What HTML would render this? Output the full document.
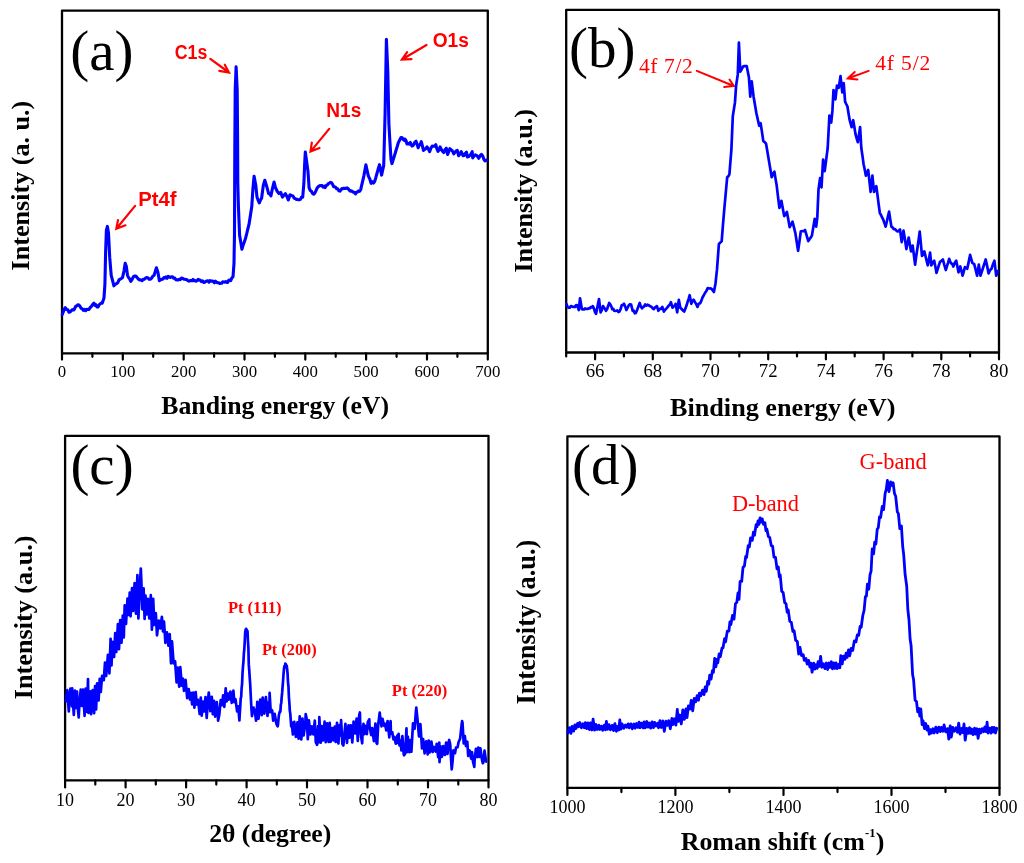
<!DOCTYPE html>
<html><head><meta charset="utf-8"><title>XPS / XRD / Raman figure</title>
<style>
html,body{margin:0;padding:0;background:#fff;}
body{width:1024px;height:863px;overflow:hidden;}
svg{display:block;will-change:transform;}
text{font-kerning:normal;}
</style></head><body>
<svg width="1024" height="863" viewBox="0 0 1024 863">
<rect width="1024" height="863" fill="#fff"/>
<rect x="62.0" y="10.6" width="425.8" height="342.7" fill="none" stroke="#000" stroke-width="2.3" stroke-linejoin="round"/>
<path d="M62.0 353.3V359.6M122.8 353.3V359.6M183.7 353.3V359.6M244.5 353.3V359.6M305.3 353.3V359.6M366.1 353.3V359.6M427.0 353.3V359.6M487.8 353.3V359.6M92.4 353.3V356.8M153.2 353.3V356.8M214.1 353.3V356.8M274.9 353.3V356.8M335.7 353.3V356.8M396.6 353.3V356.8M457.4 353.3V356.8" stroke="#000" stroke-width="2.2" stroke-linecap="round" fill="none"/>
<text x="62.0" y="376.6" font-family="Liberation Serif" font-size="16.8" font-weight="normal" fill="#000" text-anchor="middle" >0</text>
<text x="122.8" y="376.6" font-family="Liberation Serif" font-size="16.8" font-weight="normal" fill="#000" text-anchor="middle" >100</text>
<text x="183.7" y="376.6" font-family="Liberation Serif" font-size="16.8" font-weight="normal" fill="#000" text-anchor="middle" >200</text>
<text x="244.5" y="376.6" font-family="Liberation Serif" font-size="16.8" font-weight="normal" fill="#000" text-anchor="middle" >300</text>
<text x="305.3" y="376.6" font-family="Liberation Serif" font-size="16.8" font-weight="normal" fill="#000" text-anchor="middle" >400</text>
<text x="366.1" y="376.6" font-family="Liberation Serif" font-size="16.8" font-weight="normal" fill="#000" text-anchor="middle" >500</text>
<text x="427.0" y="376.6" font-family="Liberation Serif" font-size="16.8" font-weight="normal" fill="#000" text-anchor="middle" >600</text>
<text x="487.8" y="376.6" font-family="Liberation Serif" font-size="16.8" font-weight="normal" fill="#000" text-anchor="middle" >700</text>
<text x="161.2" y="414.0" font-family="Liberation Serif" font-size="25.8" font-weight="bold" fill="#000" text-anchor="start" >Banding energy (eV)</text>
<text x="0.0" y="0.0" font-family="Liberation Serif" font-size="26.1" font-weight="bold" fill="#000" text-anchor="start" transform="translate(29.4 270.4) rotate(-90)">Intensity (a. u.)</text>
<text x="70.3" y="70.2" font-family="Liberation Serif" font-size="57.0" font-weight="normal" fill="#000" text-anchor="start" >(a)</text>
<path d="M62.3 314.5 L63.3 311.8 L64.3 309.2 L65.3 307.7 L66.5 309.5 L67.8 309.8 L69.0 312.2 L70.2 311.7 L71.3 310.8 L72.4 309.6 L73.6 310.0 L74.6 308.7 L75.7 306.3 L76.8 305.9 L77.8 304.7 L78.9 305.0 L80.0 306.3 L81.1 308.4 L82.2 308.8 L83.3 310.3 L84.5 309.3 L85.6 310.7 L86.7 309.3 L87.8 309.5 L89.0 309.4 L90.1 307.7 L91.4 306.4 L92.6 304.5 L93.9 303.2 L94.9 305.5 L95.9 304.7 L96.9 307.0 L98.0 307.0 L99.0 305.0 L100.1 303.9 L101.1 303.1 L102.2 303.2 L104.0 297.9 L104.9 284.3 L105.6 252.7 L106.4 230.1 L107.4 226.4 L108.5 233.1 L109.7 257.2 L111.2 275.3 L112.6 280.6 L113.9 285.8 L115.2 284.3 L116.5 283.6 L117.7 282.8 L119.0 279.9 L120.2 279.1 L121.3 278.5 L122.5 277.6 L124.0 270.8 L125.2 263.3 L126.3 266.3 L127.5 275.3 L128.6 277.6 L129.7 279.0 L130.8 281.3 L132.0 279.6 L133.3 276.8 L134.5 276.0 L135.8 276.1 L137.0 277.4 L138.3 279.1 L139.6 280.0 L140.8 279.9 L142.1 280.6 L143.2 279.4 L144.3 279.3 L145.5 278.2 L146.6 277.6 L147.9 277.7 L149.1 279.2 L150.4 279.1 L151.6 278.3 L152.9 276.0 L154.1 275.3 L155.2 271.6 L156.4 267.8 L157.9 272.3 L159.4 280.6 L160.5 280.0 L161.7 279.2 L162.8 279.2 L163.9 277.6 L165.0 278.0 L166.0 276.9 L167.1 278.3 L168.2 276.3 L169.3 276.8 L170.3 277.5 L171.4 276.8 L172.6 276.8 L173.7 278.3 L174.8 278.0 L176.0 279.8 L177.1 279.9 L178.2 279.9 L179.2 279.2 L180.3 279.6 L181.4 278.1 L182.5 278.3 L183.6 279.1 L184.7 279.2 L185.8 279.5 L186.8 279.5 L187.9 280.7 L189.0 281.2 L190.1 280.6 L191.1 280.5 L192.1 280.8 L193.1 279.4 L194.1 280.7 L195.1 280.5 L196.1 281.2 L197.1 280.7 L198.1 279.4 L199.1 279.8 L200.2 280.2 L201.3 281.5 L202.5 280.8 L203.6 282.5 L204.7 282.2 L205.7 281.4 L206.8 281.1 L207.9 280.8 L209.0 282.2 L210.0 280.7 L211.1 281.3 L212.2 281.0 L213.3 281.5 L214.4 282.8 L215.4 281.2 L216.5 282.3 L217.6 282.7 L218.7 282.8 L219.7 283.5 L220.7 283.3 L221.7 283.3 L222.7 281.8 L223.7 282.0 L224.7 282.1 L225.7 281.5 L226.7 282.4 L227.7 282.4 L228.7 280.3 L229.7 280.1 L230.7 280.6 L231.8 278.1 L233.0 276.8 L234.0 263.3 L234.5 233.1 L234.8 150.0 L235.2 90.0 L236.1 66.7 L237.2 90.0 L237.6 140.0 L237.8 183.2 L238.4 206.3 L239.6 235.3 L240.8 242.2 L241.9 249.2 L243.1 245.1 L244.2 242.2 L245.4 238.8 L246.6 234.2 L247.7 229.5 L248.9 224.9 L250.4 215.6 L251.8 206.3 L252.9 189.0 L254.1 176.2 L255.8 185.5 L257.0 197.1 L258.1 200.2 L259.3 202.9 L260.5 200.0 L261.6 198.2 L263.3 185.5 L264.8 180.3 L265.8 183.5 L266.8 186.7 L268.6 193.6 L269.8 193.7 L270.9 195.9 L272.6 187.8 L274.1 182.0 L275.5 187.8 L277.2 191.3 L279.0 193.6 L280.7 192.4 L282.5 197.1 L283.9 195.2 L285.4 193.6 L286.9 196.5 L288.3 200.0 L290.0 194.8 L291.4 195.5 L292.9 195.9 L294.1 198.1 L295.2 198.7 L296.4 199.4 L297.4 199.4 L298.4 199.7 L299.4 199.8 L300.4 199.4 L301.5 197.3 L302.7 197.1 L303.9 183.2 L304.6 165.0 L305.3 152.0 L306.6 161.3 L308.0 171.6 L309.1 187.8 L310.2 190.4 L311.4 191.3 L312.5 193.4 L313.7 194.2 L314.9 192.9 L316.0 190.6 L317.2 187.8 L318.6 186.4 L320.0 185.5 L321.0 185.7 L322.1 185.5 L323.1 187.1 L324.2 186.2 L325.2 187.6 L326.2 185.6 L327.3 184.9 L328.3 183.7 L329.4 183.1 L330.4 182.4 L331.5 182.8 L332.5 184.1 L333.6 186.6 L334.6 186.7 L335.7 187.4 L336.7 188.8 L337.8 188.9 L338.8 190.8 L339.9 191.1 L340.9 190.0 L341.9 188.5 L343.0 188.7 L344.0 188.2 L345.1 188.4 L346.1 188.4 L347.2 187.9 L348.2 188.7 L349.2 190.2 L350.3 191.2 L351.3 190.8 L352.4 191.5 L353.4 192.3 L354.4 192.2 L355.5 193.9 L356.5 192.2 L357.6 191.9 L358.6 190.9 L359.7 191.3 L360.7 189.7 L361.7 185.2 L362.8 180.6 L363.8 176.1 L364.9 170.4 L365.9 164.7 L367.1 170.4 L368.4 176.1 L369.8 179.0 L371.1 183.4 L372.3 181.7 L373.5 183.1 L374.7 181.4 L375.8 177.7 L376.8 174.0 L378.1 169.3 L379.5 164.7 L380.6 169.9 L381.6 175.1 L382.6 170.4 L383.7 165.7 L385.1 113.5 L386.4 39.4 L387.8 71.8 L388.9 124.0 L389.9 141.7 L391.0 159.4 L392.0 163.6 L393.1 160.1 L394.1 156.7 L395.2 153.2 L396.2 149.7 L397.3 146.2 L398.3 142.7 L399.6 140.2 L401.0 137.5 L402.2 137.8 L403.4 139.7 L404.6 140.6 L405.0 139.0 L406.0 140.5 L407.0 144.0 L408.1 143.6 L409.2 144.1 L410.3 142.5 L412.0 146.0 L413.0 145.6 L414.0 144.0 L415.0 141.9 L416.0 141.2 L417.1 144.2 L418.2 147.8 L419.2 145.0 L420.3 144.3 L421.3 141.6 L422.4 146.0 L423.5 150.4 L424.7 149.3 L425.8 148.7 L427.0 146.9 L428.3 148.9 L429.6 151.7 L430.9 148.2 L432.2 146.0 L433.4 146.3 L434.6 146.2 L435.8 144.7 L436.9 148.8 L438.0 151.3 L439.1 149.8 L440.1 146.9 L441.3 149.5 L442.5 151.2 L443.7 152.6 L445.0 149.8 L446.3 148.2 L447.6 154.4 L448.7 151.6 L449.8 148.7 L450.8 149.7 L451.8 150.3 L452.8 151.6 L453.8 153.9 L455.0 152.2 L456.1 151.0 L457.3 150.4 L458.6 155.7 L459.9 154.1 L461.2 151.7 L463.0 155.7 L464.2 155.5 L465.3 153.3 L466.5 152.2 L467.4 157.0 L468.6 156.6 L469.8 155.4 L471.0 154.0 L472.2 151.7 L472.7 157.9 L474.0 156.1 L475.3 154.8 L476.5 155.4 L477.6 156.5 L478.8 158.3 L480.1 155.7 L481.5 154.4 L482.7 155.9 L483.8 159.1 L485.0 161.0 L486.5 160.1" fill="none" stroke="#0000ff" stroke-width="3.1" stroke-linejoin="round" stroke-linecap="round"/>
<text x="174.7" y="59.2" font-family="Liberation Sans" font-size="19.4" font-weight="bold" fill="#ff0000" text-anchor="start" textLength="32.6" lengthAdjust="spacingAndGlyphs">C1s</text>
<text x="432.7" y="46.8" font-family="Liberation Sans" font-size="19.4" font-weight="bold" fill="#ff0000" text-anchor="start" textLength="36.2" lengthAdjust="spacingAndGlyphs">O1s</text>
<text x="326.3" y="116.8" font-family="Liberation Sans" font-size="19.4" font-weight="bold" fill="#ff0000" text-anchor="start" textLength="35.0" lengthAdjust="spacingAndGlyphs">N1s</text>
<text x="138.2" y="205.9" font-family="Liberation Sans" font-size="19.4" font-weight="bold" fill="#ff0000" text-anchor="start" textLength="38.4" lengthAdjust="spacingAndGlyphs">Pt4f</text>
<path d="M210.3 58.8L229.0 72.5M224.8 64.7L229.0 72.5L219.3 70.9" stroke="#ff0000" stroke-width="2.2" fill="none" stroke-linecap="round" stroke-linejoin="miter"/>
<path d="M426.5 45.0L401.9 59.5M407.1 52.1L401.9 59.5L411.5 59.1" stroke="#ff0000" stroke-width="2.2" fill="none" stroke-linecap="round" stroke-linejoin="miter"/>
<path d="M329.2 128.9L310.5 151.6M311.8 142.7L310.5 151.6L319.5 148.0" stroke="#ff0000" stroke-width="2.2" fill="none" stroke-linecap="round" stroke-linejoin="miter"/>
<path d="M135.1 205.9L116.3 228.8M118.0 220.0L116.3 228.8L125.5 225.3" stroke="#ff0000" stroke-width="2.2" fill="none" stroke-linecap="round" stroke-linejoin="miter"/>
<rect x="566.2" y="9.8" width="432.8" height="342.7" fill="none" stroke="#000" stroke-width="2.3" stroke-linejoin="round"/>
<path d="M595.1 352.5V359.3M652.8 352.5V359.3M710.5 352.5V359.3M768.2 352.5V359.3M825.9 352.5V359.3M883.6 352.5V359.3M941.3 352.5V359.3M999.0 352.5V359.3M566.2 352.5V356.5M623.9 352.5V356.5M681.6 352.5V356.5M739.3 352.5V356.5M797.0 352.5V356.5M854.7 352.5V356.5M912.4 352.5V356.5M970.1 352.5V356.5" stroke="#000" stroke-width="2.2" stroke-linecap="round" fill="none"/>
<text x="595.1" y="377.4" font-family="Liberation Serif" font-size="18.8" font-weight="normal" fill="#000" text-anchor="middle" >66</text>
<text x="652.8" y="377.4" font-family="Liberation Serif" font-size="18.8" font-weight="normal" fill="#000" text-anchor="middle" >68</text>
<text x="710.5" y="377.4" font-family="Liberation Serif" font-size="18.8" font-weight="normal" fill="#000" text-anchor="middle" >70</text>
<text x="768.2" y="377.4" font-family="Liberation Serif" font-size="18.8" font-weight="normal" fill="#000" text-anchor="middle" >72</text>
<text x="825.9" y="377.4" font-family="Liberation Serif" font-size="18.8" font-weight="normal" fill="#000" text-anchor="middle" >74</text>
<text x="883.6" y="377.4" font-family="Liberation Serif" font-size="18.8" font-weight="normal" fill="#000" text-anchor="middle" >76</text>
<text x="941.3" y="377.4" font-family="Liberation Serif" font-size="18.8" font-weight="normal" fill="#000" text-anchor="middle" >78</text>
<text x="999.0" y="377.4" font-family="Liberation Serif" font-size="18.8" font-weight="normal" fill="#000" text-anchor="middle" >80</text>
<text x="670.0" y="416.0" font-family="Liberation Serif" font-size="26.2" font-weight="bold" fill="#000" text-anchor="start" >Binding energy (eV)</text>
<text x="0.0" y="0.0" font-family="Liberation Serif" font-size="26.2" font-weight="bold" fill="#000" text-anchor="start" transform="translate(531.6 272.6) rotate(-90)">Intensity (a.u.)</text>
<text x="569.0" y="66.5" font-family="Liberation Serif" font-size="57.0" font-weight="normal" fill="#000" text-anchor="start" >(b)</text>
<text x="638.9" y="72.6" font-family="Liberation Serif" font-size="21.5" font-weight="normal" fill="#ff0000" text-anchor="start" textLength="53.9" lengthAdjust="spacing">4f 7/2</text>
<text x="875.2" y="69.9" font-family="Liberation Serif" font-size="21.5" font-weight="normal" fill="#ff0000" text-anchor="start" textLength="55.1" lengthAdjust="spacing">4f 5/2</text>
<path d="M696.8 70.9L733.8 86.0M729.5 79.5L733.8 86.0L724.2 87.0" stroke="#ff0000" stroke-width="2.0" fill="none" stroke-linecap="round" stroke-linejoin="miter"/>
<path d="M868.7 70.9L847.7 78.5M854.7 72.0L847.7 78.5L857.4 79.5" stroke="#ff0000" stroke-width="2.0" fill="none" stroke-linecap="round" stroke-linejoin="miter"/>
<path d="M566.3 303.8 L567.5 306.6 L568.6 307.7 L569.8 307.6 L570.9 306.1 L572.0 306.3 L573.0 306.9 L574.1 306.9 L575.1 307.0 L576.2 305.0 L577.2 305.3 L578.8 310.0 L580.0 298.3 L581.9 309.2 L582.9 309.3 L584.0 309.5 L585.0 308.4 L586.2 309.0 L587.4 308.9 L588.5 308.4 L589.7 308.4 L590.7 307.0 L591.8 307.4 L592.8 306.1 L593.9 308.4 L594.9 311.9 L596.0 313.9 L597.0 308.9 L598.0 304.0 L599.0 299.0 L600.6 312.3 L601.8 310.1 L603.0 306.1 L604.0 307.5 L605.0 309.0 L606.0 310.8 L607.1 309.1 L608.1 306.0 L609.2 303.0 L610.2 304.4 L611.3 306.4 L612.3 309.2 L613.3 308.9 L614.3 310.8 L615.3 311.0 L616.3 310.8 L617.3 310.4 L618.4 312.0 L619.4 311.6 L620.5 309.4 L621.7 305.3 L622.9 304.9 L624.0 303.8 L625.2 306.6 L626.4 310.0 L627.6 307.7 L628.8 305.3 L630.0 304.2 L631.1 304.5 L632.7 310.8 L633.7 310.6 L634.8 313.3 L635.8 313.1 L637.1 310.0 L638.4 306.4 L639.7 303.0 L640.9 306.6 L642.0 308.4 L643.1 307.0 L644.1 306.5 L645.2 304.5 L646.4 305.6 L647.5 304.7 L648.6 305.2 L649.8 306.1 L650.8 306.5 L651.8 307.1 L652.8 308.6 L653.8 309.2 L654.8 307.7 L655.9 307.0 L656.9 306.1 L658.4 310.8 L659.7 308.8 L661.0 309.0 L662.3 306.9 L663.9 311.6 L665.2 309.7 L666.5 308.4 L667.8 306.9 L668.8 305.5 L669.9 304.6 L670.9 302.2 L672.5 307.7 L673.5 306.2 L674.6 305.9 L675.6 303.8 L677.2 312.3 L678.8 299.8 L680.3 307.7 L681.6 309.0 L682.9 310.4 L684.2 311.6 L685.4 308.5 L686.6 305.3 L687.6 301.9 L688.7 298.6 L689.7 295.2 L691.3 303.8 L692.5 300.8 L693.6 299.8 L694.9 302.0 L696.2 303.9 L697.5 306.9 L698.8 303.8 L700.1 303.3 L701.4 300.6 L702.6 297.2 L703.8 295.2 L705.1 292.8 L706.4 290.9 L707.7 288.1 L709.0 288.5 L710.3 288.3 L711.6 288.9 L712.8 290.5 L713.9 292.0 L715.5 283.4 L717.0 269.4 L718.9 243.9 L720.3 242.6 L721.7 241.1 L723.0 224.4 L724.4 207.8 L725.8 192.5 L727.2 177.2 L728.3 176.4 L729.4 174.4 L730.4 161.9 L731.4 149.4 L732.8 116.1 L733.9 109.2 L735.0 102.2 L736.1 85.6 L737.8 74.4 L738.9 42.5 L740.3 71.7 L741.9 68.9 L742.9 66.7 L743.9 66.1 L745.3 66.2 L746.7 66.1 L747.8 71.7 L748.9 77.2 L750.3 96.7 L751.7 81.4 L753.6 96.7 L755.0 105.0 L756.4 113.3 L757.8 119.5 L759.2 125.8 L760.6 123.1 L762.0 132.1 L763.3 141.1 L764.7 142.0 L766.1 143.9 L767.5 152.2 L768.9 160.6 L770.3 168.9 L771.7 177.2 L773.0 174.0 L774.4 171.7 L775.5 178.6 L776.7 185.6 L778.0 196.7 L779.4 207.8 L780.4 204.3 L781.4 200.8 L782.8 208.4 L784.2 216.1 L785.5 214.5 L786.9 211.9 L788.3 219.6 L789.7 227.2 L791.1 224.5 L792.5 221.7 L793.9 227.2 L795.3 232.8 L796.7 241.8 L798.1 250.8 L799.5 241.1 L800.8 231.4 L801.8 231.2 L802.9 231.2 L804.0 231.2 L805.0 230.0 L806.1 233.7 L807.2 237.4 L808.3 241.1 L809.5 239.2 L810.7 237.7 L811.9 235.6 L813.3 227.2 L814.7 218.9 L816.2 226.7 L817.3 217.4 L818.5 189.6 L820.1 178.1 L821.5 187.3 L823.1 159.5 L824.7 171.1 L825.7 163.4 L826.7 155.7 L827.7 148.0 L829.4 115.6 L831.2 122.5 L832.4 110.9 L833.5 90.1 L835.4 99.4 L837.0 85.5 L838.8 87.8 L840.5 76.2 L842.3 92.4 L843.7 83.1 L845.1 101.7 L846.2 104.0 L847.4 106.3 L848.5 113.2 L849.7 120.2 L851.6 127.1 L853.2 120.2 L854.4 127.2 L855.5 134.1 L856.6 138.1 L857.8 142.2 L859.0 134.6 L860.1 127.1 L861.3 148.0 L862.5 156.1 L863.6 164.2 L864.8 169.9 L865.9 175.7 L867.0 172.9 L868.2 170.0 L869.4 180.9 L870.6 191.9 L872.4 175.7 L874.0 191.9 L875.1 189.4 L876.3 186.2 L877.5 195.1 L878.6 203.9 L879.8 212.8 L881.0 215.0 L882.1 217.5 L883.3 219.7 L884.5 223.2 L885.6 226.7 L886.8 221.7 L887.9 216.6 L889.1 211.6 L890.2 219.1 L891.4 226.7 L892.6 227.4 L893.7 229.1 L894.9 229.0 L896.0 230.2 L897.2 231.3 L898.3 231.3 L900.0 229.4 L901.7 242.1 L903.5 230.6 L905.0 239.8 L906.4 249.1 L907.5 243.3 L908.7 237.5 L909.9 244.4 L911.0 251.4 L912.7 245.6 L913.9 255.1 L915.1 264.7 L916.2 256.4 L917.4 248.2 L918.6 239.9 L919.7 231.7 L920.9 243.8 L922.0 256.0 L923.1 254.6 L924.3 251.4 L925.5 256.0 L926.6 260.7 L927.8 265.3 L929.0 258.9 L930.1 252.6 L931.3 265.3 L932.8 262.5 L934.2 260.7 L935.4 266.8 L936.5 272.9 L937.7 269.2 L938.8 265.5 L940.0 261.8 L941.5 260.8 L942.9 259.5 L944.3 264.8 L945.8 270.0 L946.9 266.3 L948.1 262.6 L949.2 258.9 L950.2 261.7 L951.2 263.4 L952.3 263.9 L953.3 266.5 L954.8 262.8 L956.2 260.7 L957.4 266.5 L958.5 272.3 L960.3 266.5 L961.5 271.1 L962.6 275.7 L963.8 271.4 L964.9 267.1 L966.0 267.8 L967.2 268.8 L968.7 261.9 L970.1 254.9 L971.2 258.9 L972.4 263.0 L974.2 264.2 L975.7 269.9 L977.1 275.7 L978.8 264.7 L980.5 275.7 L981.5 272.5 L982.6 269.2 L983.6 266.0 L984.7 262.7 L985.7 259.5 L987.2 266.4 L988.6 273.4 L990.0 270.2 L991.5 268.8 L993.0 264.2 L994.4 260.7 L996.2 275.7 L997.9 271.1" fill="none" stroke="#0000ff" stroke-width="2.7" stroke-linejoin="round" stroke-linecap="round"/>
<rect x="65.1" y="435.9" width="423.4" height="344.4" fill="none" stroke="#000" stroke-width="2.3" stroke-linejoin="round"/>
<path d="M65.1 780.3V787.5M125.6 780.3V787.5M186.1 780.3V787.5M246.6 780.3V787.5M307.0 780.3V787.5M367.5 780.3V787.5M428.0 780.3V787.5M488.5 780.3V787.5M95.3 780.3V784.6M155.8 780.3V784.6M216.3 780.3V784.6M276.8 780.3V784.6M337.3 780.3V784.6M397.8 780.3V784.6M458.3 780.3V784.6" stroke="#000" stroke-width="2.2" stroke-linecap="round" fill="none"/>
<text x="65.1" y="806.3" font-family="Liberation Serif" font-size="18.0" font-weight="normal" fill="#000" text-anchor="middle" >10</text>
<text x="125.6" y="806.3" font-family="Liberation Serif" font-size="18.0" font-weight="normal" fill="#000" text-anchor="middle" >20</text>
<text x="186.1" y="806.3" font-family="Liberation Serif" font-size="18.0" font-weight="normal" fill="#000" text-anchor="middle" >30</text>
<text x="246.6" y="806.3" font-family="Liberation Serif" font-size="18.0" font-weight="normal" fill="#000" text-anchor="middle" >40</text>
<text x="307.0" y="806.3" font-family="Liberation Serif" font-size="18.0" font-weight="normal" fill="#000" text-anchor="middle" >50</text>
<text x="367.5" y="806.3" font-family="Liberation Serif" font-size="18.0" font-weight="normal" fill="#000" text-anchor="middle" >60</text>
<text x="428.0" y="806.3" font-family="Liberation Serif" font-size="18.0" font-weight="normal" fill="#000" text-anchor="middle" >70</text>
<text x="488.5" y="806.3" font-family="Liberation Serif" font-size="18.0" font-weight="normal" fill="#000" text-anchor="middle" >80</text>
<text x="209.2" y="842.0" font-family="Liberation Serif" font-size="25.7" font-weight="bold" fill="#000" text-anchor="start" >2&#952; (degree)</text>
<text x="0.0" y="0.0" font-family="Liberation Serif" font-size="26.2" font-weight="bold" fill="#000" text-anchor="start" transform="translate(32.1 699.2) rotate(-90)">Intensity (a.u.)</text>
<text x="70.4" y="483.6" font-family="Liberation Serif" font-size="57.0" font-weight="normal" fill="#000" text-anchor="start" >(c)</text>
<text x="227.9" y="613.4" font-family="Liberation Serif" font-size="16.5" font-weight="bold" fill="#ff0000" text-anchor="start" >Pt (111)</text>
<text x="261.9" y="654.5" font-family="Liberation Serif" font-size="16.3" font-weight="bold" fill="#ff0000" text-anchor="start" >Pt (200)</text>
<text x="391.8" y="695.8" font-family="Liberation Serif" font-size="16.5" font-weight="bold" fill="#ff0000" text-anchor="start" >Pt (220)</text>
<path d="M65.8 701.2 L67.3 690.1 L68.8 711.5 L70.4 688.6 L72.1 706.4 L72.2 688.3 L73.8 715.0 L75.0 690.7 L76.1 707.8 L77.0 691.6 L77.9 708.8 L78.7 717.4 L79.2 707.6 L80.7 689.7 L81.8 705.8 L83.0 689.5 L84.6 715.8 L85.6 688.7 L87.1 711.8 L88.0 679.0 L88.5 712.9 L90.2 691.4 L91.1 714.1 L92.7 690.1 L94.1 713.2 L95.1 686.0 L96.1 709.5 L97.1 683.4 L98.6 700.4 L99.7 678.9 L100.8 691.8 L102.1 675.8 L103.8 680.2 L105.0 662.5 L106.2 675.9 L107.9 654.8 L109.4 673.3 L110.6 638.9 L111.5 665.4 L112.5 641.8 L114.1 657.0 L115.2 633.2 L116.3 652.0 L117.9 624.2 L119.0 649.1 L120.2 620.0 L121.5 642.6 L122.8 615.6 L123.8 637.4 L124.7 605.3 L126.0 624.0 L127.5 598.5 L128.7 615.0 L129.7 592.7 L130.6 616.3 L132.0 588.2 L133.1 611.0 L134.6 583.2 L136.0 613.7 L137.4 575.1 L138.4 618.4 L140.0 583.0 L140.8 568.6 L141.4 582.3 L142.3 609.3 L143.6 588.3 L144.6 618.9 L145.5 595.6 L146.6 614.3 L147.9 598.8 L149.3 618.5 L150.8 595.2 L151.9 629.7 L153.2 598.9 L154.3 624.9 L155.8 613.1 L157.0 635.3 L158.7 620.5 L160.3 628.5 L161.9 616.8 L163.0 631.5 L164.0 621.5 L165.4 642.9 L166.9 632.4 L168.4 645.7 L169.7 634.1 L171.0 663.3 L172.0 641.3 L173.6 663.3 L175.1 661.3 L176.6 682.5 L177.8 667.6 L179.2 686.7 L180.3 667.2 L181.8 685.6 L182.9 678.6 L184.0 690.9 L185.6 679.9 L187.2 698.1 L188.7 689.2 L190.0 699.5 L191.1 692.9 L192.1 704.4 L193.2 692.7 L194.4 707.7 L195.7 692.1 L196.7 704.5 L198.0 699.9 L199.7 714.0 L200.8 697.7 L201.7 715.6 L203.1 701.5 L204.3 711.3 L205.5 697.1 L206.7 718.0 L208.0 699.3 L208.8 692.5 L209.0 694.6 L210.3 711.2 L211.8 696.8 L212.8 714.1 L214.0 700.8 L215.2 716.7 L216.8 702.0 L217.8 713.6 L218.1 720.7 L219.3 714.8 L220.7 700.2 L222.0 705.2 L223.1 695.3 L224.3 706.8 L225.7 688.4 L226.6 701.5 L227.8 693.5 L228.7 699.6 L230.4 691.5 L231.7 702.9 L233.4 690.7 L234.3 702.2 L235.5 699.2 L237.1 711.4 L238.3 706.4 L239.4 720.3 L239.8 713.4 L240.3 705.7 L240.7 698.4 L241.2 697.0 L241.6 688.4 L242.1 683.7 L242.5 673.5 L243.0 666.4 L243.4 662.2 L243.9 653.0 L244.3 649.5 L244.8 640.4 L245.2 632.0 L245.7 629.6 L246.1 628.8 L246.6 629.6 L247.0 631.5 L247.5 631.0 L247.9 640.3 L248.4 648.4 L248.8 664.9 L249.3 671.1 L249.7 677.4 L250.2 684.2 L250.6 692.7 L251.1 702.5 L251.5 709.6 L252.0 716.1 L252.4 713.8 L253.6 707.6 L255.1 712.5 L256.0 720.7 L256.3 719.4 L257.3 701.8 L258.5 718.6 L260.2 699.6 L261.7 715.1 L262.7 697.5 L264.3 713.7 L265.9 697.1 L267.5 715.9 L268.4 702.3 L269.5 712.2 L269.6 692.9 L270.7 712.0 L272.1 710.2 L273.2 720.7 L274.7 713.9 L276.4 723.8 L277.7 726.3 L278.1 723.5 L278.6 717.9 L279.0 714.4 L279.5 713.0 L279.9 711.3 L280.4 711.5 L280.8 704.9 L281.3 702.7 L281.7 697.1 L282.2 692.2 L282.6 686.7 L283.1 680.5 L283.5 674.0 L284.0 668.8 L284.4 666.1 L284.9 667.7 L285.3 663.7 L285.8 664.2 L286.2 667.5 L286.7 665.6 L287.1 668.7 L287.6 674.1 L288.0 682.1 L288.5 687.0 L288.9 697.0 L289.4 703.3 L289.8 710.6 L290.3 713.8 L290.7 719.7 L291.2 726.5 L291.6 722.1 L292.9 734.5 L294.3 721.9 L295.9 736.9 L297.4 722.4 L298.6 738.6 L299.7 716.4 L301.3 739.4 L302.5 718.6 L303.6 735.5 L305.3 724.1 L305.7 714.0 L306.9 720.0 L307.8 739.2 L308.9 720.4 L310.5 734.5 L311.8 726.4 L313.4 734.4 L314.8 720.7 L315.8 742.2 L317.0 744.8 L317.2 744.1 L318.1 726.0 L319.2 742.2 L319.3 717.0 L320.7 742.6 L321.7 726.0 L323.1 740.5 L324.6 721.6 L325.7 742.2 L327.1 723.3 L328.6 741.8 L329.7 722.8 L330.6 741.8 L332.2 728.0 L333.4 740.3 L334.8 726.5 L335.7 741.8 L337.0 722.9 L338.4 743.4 L339.7 725.2 L340.7 735.4 L341.1 720.1 L342.4 744.0 L343.4 745.5 L344.0 738.4 L345.4 723.8 L347.0 742.8 L348.5 725.4 L349.6 737.7 L350.8 725.4 L352.3 742.5 L353.6 721.5 L355.2 733.4 L356.6 718.7 L357.8 741.0 L359.2 715.1 L359.9 712.5 L360.1 720.6 L361.2 737.2 L362.2 743.3 L362.5 734.5 L363.5 723.9 L364.5 734.2 L365.4 725.9 L366.9 734.1 L367.8 722.2 L369.3 719.3 L369.5 726.1 L371.2 735.1 L372.2 728.1 L373.9 741.2 L375.4 723.5 L376.6 743.1 L377.2 743.8 L378.2 724.4 L379.2 717.0 L379.7 712.6 L380.3 717.8 L381.5 726.3 L382.5 718.9 L384.1 725.8 L385.1 723.8 L386.3 730.4 L387.6 721.0 L389.3 737.3 L390.6 721.1 L390.9 733.7 L392.2 732.1 L393.5 739.4 L394.4 737.0 L395.8 743.7 L397.3 735.5 L398.2 743.0 L398.6 733.9 L399.5 745.5 L400.5 740.6 L401.4 750.3 L402.4 736.1 L403.7 754.2 L404.1 755.3 L405.1 753.8 L406.5 728.4 L406.8 752.2 L407.8 736.6 L409.3 752.1 L410.2 740.2 L411.4 751.6 L413.0 723.4 L414.6 728.8 L415.9 711.2 L416.3 707.7 L417.4 718.4 L419.0 736.5 L420.4 724.0 L422.0 748.4 L423.1 739.0 L424.6 753.3 L426.2 741.3 L427.7 754.3 L428.7 740.6 L429.9 752.3 L431.4 741.5 L432.8 752.0 L434.1 747.0 L435.8 751.6 L436.7 743.9 L438.2 757.1 L439.3 742.6 L439.5 762.1 L440.4 746.2 L441.9 756.9 L443.2 746.1 L444.8 755.0 L446.1 742.7 L447.5 754.0 L448.5 742.7 L449.2 740.0 L450.2 744.3 L451.1 759.6 L451.7 769.4 L452.5 762.2 L453.4 750.3 L455.0 753.2 L456.0 747.6 L457.6 747.2 L458.6 742.0 L460.1 738.8 L461.6 724.8 L462.1 721.1 L462.5 722.6 L463.7 743.5 L464.8 736.0 L466.0 746.0 L467.3 741.7 L468.2 756.0 L469.7 750.5 L471.1 758.6 L472.0 752.2 L472.9 761.1 L474.3 766.9 L474.6 760.2 L475.9 748.8 L477.2 757.1 L478.3 747.5 L479.4 756.9 L480.4 748.4 L481.9 759.4 L482.8 763.3 L483.3 762.6 L484.5 750.6 L486.1 761.6" fill="none" stroke="#0000ff" stroke-width="2.7" stroke-linejoin="round" stroke-linecap="round"/>
<rect x="567.4" y="436.4" width="432.1" height="351.5" fill="none" stroke="#000" stroke-width="2.3" stroke-linejoin="round"/>
<path d="M567.4 787.9V794.9M675.4 787.9V794.9M783.5 787.9V794.9M891.5 787.9V794.9M999.5 787.9V794.9M621.4 787.9V792.1M729.4 787.9V792.1M837.5 787.9V792.1M945.5 787.9V792.1" stroke="#000" stroke-width="2.2" stroke-linecap="round" fill="none"/>
<text x="567.4" y="813.0" font-family="Liberation Serif" font-size="18.0" font-weight="normal" fill="#000" text-anchor="middle" >1000</text>
<text x="675.4" y="813.0" font-family="Liberation Serif" font-size="18.0" font-weight="normal" fill="#000" text-anchor="middle" >1200</text>
<text x="783.5" y="813.0" font-family="Liberation Serif" font-size="18.0" font-weight="normal" fill="#000" text-anchor="middle" >1400</text>
<text x="891.5" y="813.0" font-family="Liberation Serif" font-size="18.0" font-weight="normal" fill="#000" text-anchor="middle" >1600</text>
<text x="999.5" y="813.0" font-family="Liberation Serif" font-size="18.0" font-weight="normal" fill="#000" text-anchor="middle" >1800</text>
<text x="680.7" y="850.0" font-family="Liberation Serif" font-size="25.9" font-weight="bold" fill="#000" text-anchor="start" >Roman shift (cm</text>
<text x="865.0" y="837.2" font-family="Liberation Serif" font-size="12.5" font-weight="bold" fill="#000" text-anchor="start" >-1</text>
<text x="875.8" y="850.0" font-family="Liberation Serif" font-size="25.9" font-weight="bold" fill="#000" text-anchor="start" >)</text>
<text x="0.0" y="0.0" font-family="Liberation Serif" font-size="26.4" font-weight="bold" fill="#000" text-anchor="start" transform="translate(534.6 704.6) rotate(-90)">Intensity (a.u.)</text>
<text x="572.0" y="484.2" font-family="Liberation Serif" font-size="57.0" font-weight="normal" fill="#000" text-anchor="start" >(d)</text>
<text x="732.0" y="511.2" font-family="Liberation Serif" font-size="22.3" font-weight="normal" fill="#ff0000" text-anchor="start" >D-band</text>
<text x="859.6" y="468.8" font-family="Liberation Serif" font-size="22.4" font-weight="normal" fill="#ff0000" text-anchor="start" >G-band</text>
<path d="M567.8 733.1 L569.4 727.7 L570.9 733.4 L572.1 726.5 L573.6 731.1 L574.9 724.9 L576.0 728.5 L577.6 723.4 L578.8 726.7 L579.8 722.5 L581.5 727.9 L583.0 723.7 L584.4 727.8 L585.4 722.6 L586.7 728.7 L588.0 722.9 L589.3 729.6 L590.4 723.0 L591.8 730.0 L593.1 719.2 L594.6 730.1 L595.8 724.3 L597.3 729.5 L598.8 725.1 L599.7 729.5 L601.4 726.1 L602.7 730.3 L604.3 725.1 L605.4 729.8 L606.4 721.4 L607.6 729.4 L609.0 724.7 L610.5 729.9 L612.1 725.4 L613.6 730.6 L614.9 723.6 L616.4 731.3 L617.5 726.3 L618.7 730.0 L619.8 719.9 L620.9 729.1 L622.1 723.9 L623.8 728.3 L625.4 725.0 L626.8 727.2 L628.2 723.9 L629.3 727.8 L630.9 723.9 L632.3 728.8 L633.9 724.0 L635.2 728.2 L636.5 723.5 L637.8 727.4 L639.1 722.2 L640.0 727.7 L641.5 723.1 L643.1 727.9 L644.1 721.9 L645.2 727.9 L646.8 721.5 L648.0 727.1 L649.3 723.0 L650.6 728.1 L652.1 721.8 L653.4 727.7 L654.6 722.3 L656.0 726.0 L657.6 723.1 L658.5 727.8 L659.9 720.7 L661.3 727.5 L662.8 720.9 L664.3 731.3 L665.9 721.2 L667.5 725.4 L668.7 720.7 L670.3 728.8 L671.9 718.5 L672.8 724.6 L674.5 718.8 L675.9 725.1 L677.3 709.3 L678.3 721.4 L679.8 715.0 L681.3 723.9 L682.8 709.8 L684.4 719.4 L686.0 708.8 L687.0 717.5 L688.4 705.9 L689.9 709.1 L691.2 700.5 L692.7 710.9 L694.2 698.3 L695.8 701.8 L697.1 695.7 L698.5 700.2 L699.4 693.2 L700.9 695.7 L702.5 690.2 L704.0 694.6 L705.2 687.0 L706.3 691.3 L707.7 681.3 L708.8 684.1 L709.7 675.1 L711.1 679.1 L712.4 670.7 L713.4 672.4 L714.7 658.5 L715.9 666.9 L716.9 659.4 L717.8 662.9 L719.1 654.0 L720.3 656.8 L722.0 647.9 L723.0 647.9 L724.6 638.6 L725.6 641.8 L727.3 631.1 L728.9 631.1 L729.9 622.0 L730.9 624.6 L732.5 615.4 L734.0 619.1 L735.5 603.5 L736.8 602.5 L738.0 593.0 L739.0 599.3 L740.1 581.5 L741.7 581.3 L743.0 567.3 L744.4 566.1 L745.7 556.5 L746.6 557.3 L748.2 545.6 L749.3 547.0 L750.6 537.8 L752.3 540.4 L753.4 532.1 L754.5 535.2 L756.1 524.6 L757.0 526.7 L758.0 521.0 L758.9 524.4 L760.1 517.8 L761.1 522.2 L762.2 518.9 L763.5 524.4 L764.9 522.7 L765.9 530.6 L766.8 528.9 L768.4 536.6 L769.7 537.4 L771.3 545.7 L772.6 546.1 L774.0 557.2 L775.5 557.4 L777.0 568.8 L778.3 566.9 L779.3 576.8 L780.2 574.8 L781.7 591.3 L783.1 592.3 L784.7 602.7 L786.0 603.6 L787.2 612.2 L788.2 609.9 L789.8 621.4 L791.3 622.3 L792.9 631.4 L794.1 630.7 L795.7 640.4 L797.3 641.4 L798.7 654.0 L800.0 647.4 L801.5 655.5 L803.2 654.7 L804.3 660.4 L805.9 658.4 L807.2 664.1 L808.6 660.4 L809.9 667.0 L810.9 663.1 L812.1 672.2 L813.7 663.1 L814.8 669.0 L816.2 664.7 L817.2 668.3 L818.1 661.7 L819.5 666.3 L820.6 656.4 L821.9 667.3 L823.4 663.8 L824.9 668.6 L826.3 663.0 L827.6 669.6 L828.9 663.0 L829.9 667.4 L831.3 661.7 L832.5 668.8 L833.7 662.8 L834.8 668.4 L836.0 662.8 L837.2 668.6 L838.6 664.4 L839.8 667.8 L840.8 655.6 L842.2 663.9 L843.5 656.1 L845.0 659.3 L846.1 653.2 L847.1 657.4 L848.5 650.0 L849.7 655.8 L851.1 648.4 L852.7 650.4 L854.3 640.9 L856.0 641.8 L857.3 634.9 L858.7 635.3 L860.1 626.4 L861.2 627.2 L862.8 615.5 L864.1 610.4 L865.4 596.6 L866.4 596.2 L867.4 584.1 L868.8 589.2 L870.0 574.8 L871.1 571.2 L872.2 549.0 L873.6 553.8 L874.7 542.1 L875.9 544.0 L877.2 529.3 L878.3 527.7 L879.5 516.8 L880.6 517.5 L882.3 506.3 L883.6 509.6 L885.1 493.6 L886.3 489.2 L887.4 480.5 L889.0 491.5 L890.6 481.9 L891.8 485.4 L893.1 482.7 L894.5 493.5 L895.7 496.3 L897.3 511.7 L898.4 513.6 L899.8 528.7 L901.4 525.9 L902.7 546.5 L903.7 554.7 L905.1 574.3 L906.7 586.0 L907.8 608.8 L909.0 620.0 L910.1 639.0 L911.1 645.6 L912.6 674.6 L913.6 679.8 L915.1 700.3 L916.5 701.5 L917.7 711.8 L918.8 708.4 L919.8 716.0 L920.8 708.8 L922.1 724.6 L923.0 720.6 L924.5 728.7 L925.7 723.5 L927.1 730.1 L928.0 726.2 L929.3 734.2 L930.4 729.7 L931.5 733.1 L932.9 728.8 L934.2 733.0 L935.8 727.1 L937.3 732.7 L938.8 727.2 L940.3 731.6 L941.4 727.4 L942.9 731.3 L944.1 725.0 L945.8 731.8 L947.5 728.6 L948.8 739.1 L950.2 726.0 L951.3 737.1 L952.8 727.3 L954.4 731.2 L956.0 727.8 L957.5 732.2 L958.7 723.2 L960.1 734.0 L961.8 728.4 L962.9 732.6 L964.0 724.0 L965.2 740.2 L966.8 728.5 L968.2 733.3 L969.5 727.6 L970.5 733.3 L971.7 729.0 L973.0 734.6 L974.6 728.2 L975.6 734.0 L977.0 728.8 L978.1 738.3 L979.5 729.2 L980.7 733.0 L982.1 728.7 L983.7 731.8 L984.8 727.0 L986.1 731.6 L987.1 722.1 L988.0 733.0 L989.5 728.2 L991.0 733.1 L992.0 727.5 L993.0 732.0 L994.2 727.4 L995.4 733.0 L996.8 728.3" fill="none" stroke="#0000ff" stroke-width="2.8" stroke-linejoin="round" stroke-linecap="round"/>
</svg>
</body></html>
